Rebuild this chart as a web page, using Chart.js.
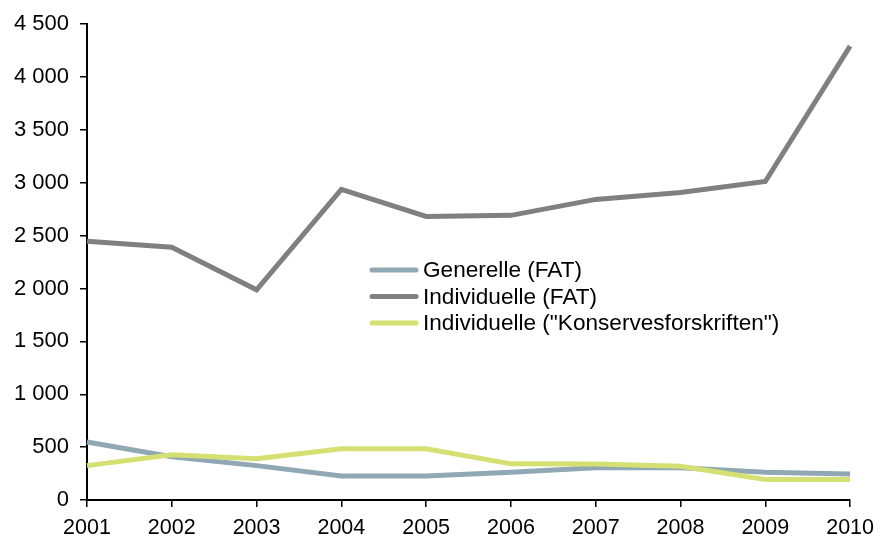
<!DOCTYPE html>
<html>
<head>
<meta charset="utf-8">
<script src="https://cdn.jsdelivr.net/npm/chart.js@4/dist/chart.umd.min.js"></script>
<style>
  html, body { margin: 0; padding: 0; background: #fff; }
  #wrap { width: 882px; height: 541px; }
</style>
</head>
<body>
<div id="wrap"><canvas id="c" width="882" height="541"></canvas></div>
<script>
const years = ['2001','2002','2003','2004','2005','2006','2007','2008','2009','2010'];
const generelleFAT = [548, 410, 325, 228, 228, 262, 305, 305, 262, 245];
const individuelleFAT = [2448, 2390, 1988, 2938, 2682, 2692, 2843, 2909, 3012, 4292];
const konserves = [325, 428, 390, 485, 485, 342, 340, 320, 195, 195];
const seriesNames = ['Generelle (FAT)', 'Individuelle (FAT)', 'Individuelle ("Konservesforskriften")'];
const seriesColors = ['#90A8B3', '#808080', '#D5E072'];

const FONT = 'Liberation Sans, Arial, sans-serif';

const insideLegend = {
  id: 'insideLegend',
  afterDraw(chart) {
    const ctx = chart.ctx;
    const x0 = 372, y0 = 270, step = 26.5, len = 44;
    ctx.save();
    ctx.font = '22.6px ' + FONT;
    ctx.textBaseline = 'middle';
    ctx.textAlign = 'left';
    seriesNames.forEach((name, i) => {
      const y = y0 + i * step;
      ctx.strokeStyle = seriesColors[i];
      ctx.lineWidth = 5;
      ctx.lineCap = 'round';
      ctx.beginPath();
      ctx.moveTo(x0, y);
      ctx.lineTo(x0 + len, y);
      ctx.stroke();
      ctx.fillStyle = '#000';
      ctx.fillText(name, x0 + len + 7, y + 1);
    });
    ctx.restore();
  }
};

new Chart(document.getElementById('c'), {
  type: 'line',
  data: {
    labels: years,
    datasets: [
      { label: seriesNames[0], data: generelleFAT, borderColor: seriesColors[0], order: 3 },
      { label: seriesNames[1], data: individuelleFAT, borderColor: seriesColors[1], order: 2 },
      { label: seriesNames[2], data: konserves, borderColor: seriesColors[2], order: 1 }
    ]
  },
  options: {
    responsive: false,
    animation: false,
    devicePixelRatio: 1,
    layout: { padding: { top: 22, right: 31, left: 0, bottom: 0 } },
    elements: {
      line: { tension: 0, borderWidth: 5, fill: false, borderCapStyle: 'butt' },
      point: { radius: 0, hoverRadius: 0 }
    },
    plugins: { legend: { display: false }, tooltip: { enabled: false } },
    scales: {
      x: {
        offset: false,
        grid: { drawOnChartArea: false, drawTicks: true, tickLength: 7, color: '#000', lineWidth: 1.5 },
        border: { display: true, color: '#000', width: 2 },
        ticks: { color: '#000', font: { family: FONT, size: 21.5 }, padding: 8, maxRotation: 0, autoSkip: false },
        afterFit(scale) { scale.height = 41; }
      },
      y: {
        min: 0, max: 4500,
        grid: { drawOnChartArea: false, drawTicks: true, tickLength: 7, color: '#000', lineWidth: 1.5 },
        border: { display: true, color: '#000', width: 2 },
        ticks: {
          stepSize: 500, color: '#000', font: { family: FONT, size: 22 }, padding: 11,
          callback: (v) => String(v).replace(/\B(?=(\d{3})+(?!\d))/g, ' ')
        },
        afterFit(scale) { scale.width = 87; }
      }
    }
  },
  plugins: [insideLegend]
});
</script>
</body>
</html>
